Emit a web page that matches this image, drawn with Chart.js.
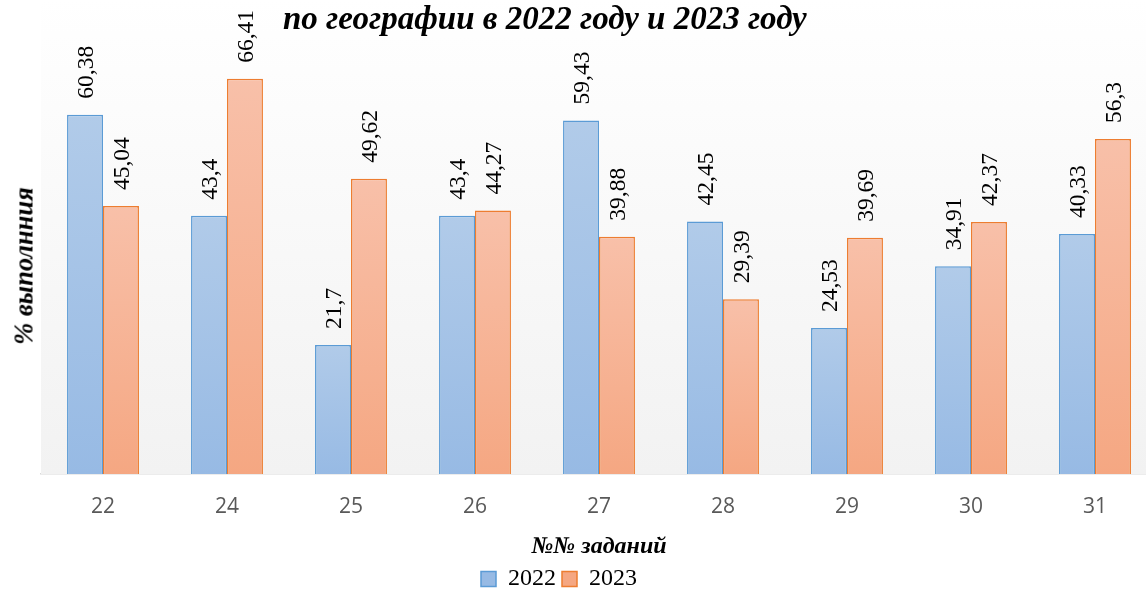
<!DOCTYPE html>
<html><head><meta charset="utf-8">
<script src="https://cdn.jsdelivr.net/npm/chart.js@4.4.0/dist/chart.umd.min.js"></script>
<style>
html,body{margin:0;padding:0;background:#fff;overflow:hidden;width:1146px;height:593px;}
#wrap{position:absolute;left:0;top:-2px;width:1157px;height:603px;}
#title{position:absolute;left:283px;top:2px;font:italic bold 33px "Liberation Serif",serif;line-height:1;color:#000;white-space:nowrap;}
#ytitle{position:absolute;left:24px;top:266px;transform:translate(-50%,-50%) rotate(-90deg);font:italic bold 26.5px "Liberation Serif",serif;color:#000;white-space:nowrap;}
</style></head>
<body>
<div id="wrap"><canvas id="c"></canvas></div>
<div id="title">по географии в 2022 году и 2023 году</div>
<div id="ytitle">% выполнния</div>
<script>
const categories = ['22','24','25','26','27','28','29','30','31'];
const values2022 = [60.38, 43.4, 21.7, 43.4, 59.43, 42.45, 24.53, 34.91, 40.33];
const values2023 = [45.04, 66.41, 49.62, 44.27, 39.88, 29.39, 39.69, 42.37, 56.3];
const seriesNames = ['2022', '2023'];
const xAxisTitle = '№№ заданий';
const yMin = 0, yMax = 80;

function barGradient(top, bottom) {
  return function(ctx) {
    const chart = ctx.chart;
    if (!chart.chartArea || ctx.type !== 'data' || !chart.scales.y) return bottom;
    const ys = chart.scales.y;
    const y0 = ys.getPixelForValue(ctx.raw), y1 = ys.getPixelForValue(0);
    if (!isFinite(y0) || !isFinite(y1) || y0 === y1) return bottom;
    const g = chart.ctx.createLinearGradient(0, y0, 0, y1);
    g.addColorStop(0, top);
    g.addColorStop(1, bottom);
    return g;
  };
}

const plotBg = {
  id: 'plotBg',
  beforeDatasetsDraw(chart) {
    const {ctx, chartArea: a} = chart;
    const g = ctx.createLinearGradient(0, a.top, 0, a.bottom);
    g.addColorStop(0, '#ffffff');
    g.addColorStop(1, '#f2f2f2');
    ctx.save();
    ctx.fillStyle = g;
    ctx.fillRect(a.left, a.top, a.right - a.left, a.bottom - a.top);
    ctx.restore();
  }
};

const legendShift = {
  id: 'legendShift',
  afterLayout(chart) {
    const lg = chart.legend;
    if (lg) { lg.left -= 40; lg.right -= 40; }
  }
};

const valueLabels = {
  id: 'valueLabels',
  afterDatasetsDraw(chart) {
    const ctx = chart.ctx;
    ctx.save();
    ctx.font = '23.5px "Liberation Serif", serif';
    ctx.fillStyle = '#000';
    ctx.textAlign = 'left';
    ctx.textBaseline = 'alphabetic';
    chart.data.datasets.forEach((ds, di) => {
      const meta = chart.getDatasetMeta(di);
      meta.data.forEach((bar, i) => {
        const txt = String(ds.data[i]).replace('.', ',');
        ctx.save();
        ctx.translate(bar.x + 8, bar.y - 16);
        ctx.rotate(-Math.PI / 2);
        ctx.fillText(txt, 0, 0);
        ctx.restore();
      });
    });
    ctx.restore();
  }
};

new Chart(document.getElementById('c'), {
  type: 'bar',
  data: {
    labels: categories,
    datasets: [
      { label: seriesNames[0], data: values2022,
        backgroundColor: barGradient('#b1cbe9', '#97bae4'),
        borderColor: '#5b9bd5', borderWidth: 1.5, borderSkipped: 'bottom' },
      { label: seriesNames[1], data: values2023,
        backgroundColor: barGradient('#f8c0a9', '#f5a782'),
        borderColor: '#ed7d31', borderWidth: 1.5, borderSkipped: 'bottom' }
    ]
  },
  options: {
    responsive: true,
    maintainAspectRatio: false,
    animation: false,
    layout: { padding: { left: 41, right: 0, top: 0, bottom: 0 } },
    datasets: { bar: { barPercentage: 1.0, categoryPercentage: 0.58 } },
    scales: {
      x: {
        grid: { display: false, drawTicks: false },
        border: { display: true, color: '#d9d9d9', width: 1.5 },
        ticks: { color: '#595959', font: { family: '"Open Sans"', size: 21 }, padding: 20 },
        title: { display: true, text: xAxisTitle, color: '#000',
          font: { family: '"Liberation Serif"', size: 24, style: 'italic', weight: 'bold' },
          padding: { top: -7, bottom: 0 } }
      },
      y: { display: false, min: yMin, max: yMax }
    },
    plugins: {
      legend: { position: 'bottom',
        labels: { boxWidth: 15, boxHeight: 15, padding: 6, color: '#000',
          font: { family: '"Liberation Serif"', size: 24 } } },
      tooltip: { enabled: false },
      title: { display: false }
    }
  },
  plugins: [plotBg, legendShift, valueLabels]
});
</script>
</body></html>
